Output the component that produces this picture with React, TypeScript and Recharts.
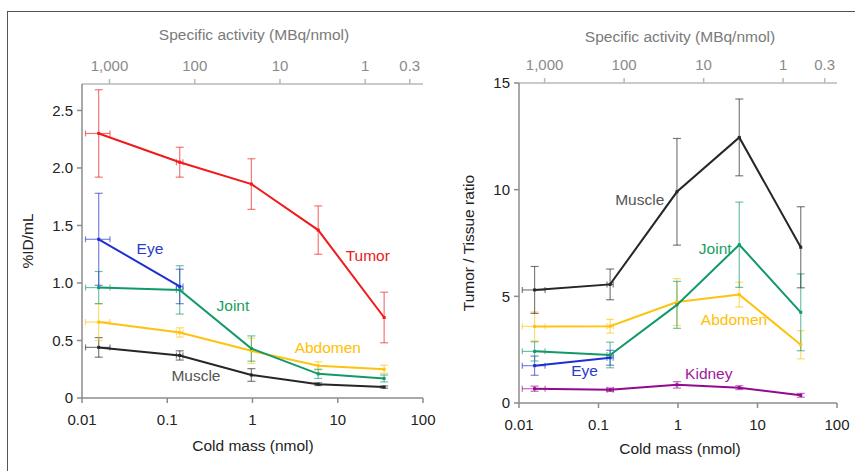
import React from 'react';
import { ComposedChart, Scatter, XAxis, YAxis, ErrorBar, ReferenceDot } from 'recharts';

// shared x positions (cold mass, nmol) and their horizontal error
const coldMass = [0.0157, 0.14, 0.97, 5.9, 35];
const coldMassErr: ([number, number] | null)[] = [[0.0047, 0.0056], [0.012, 0.013], null, null, null];

const massTicks = [0.01, 0.1, 1, 10, 100];
const activityTicks = [1000, 100, 10, 1, 0.3];
const activityLabels = ['1,000', '100', '10', '1', '0.3'];
const injectedMBq = 21; // specific activity * cold mass

// left panel: %ID/mL
const tumorUptake = [2.3, 2.05, 1.86, 1.46, 0.7];
const tumorUptakeErr = [0.38, 0.13, 0.22, 0.21, 0.22];
const eyeUptake = [1.38, 0.97];
const eyeUptakeErr = [0.4, 0.15];
const jointUptake = [0.96, 0.94, 0.43, 0.21, 0.17];
const jointUptakeErr = [0.14, 0.21, 0.11, 0.04, 0.03];
const abdomenUptake = [0.66, 0.57, 0.41, 0.28, 0.25];
const abdomenUptakeErr = [0.16, 0.04, 0.11, 0.035, 0.035];
const muscleUptake = [0.44, 0.37, 0.2, 0.12, 0.095];
const muscleUptakeErr = [0.085, 0.04, 0.055, 0.012, 0.01];

// right panel: tumor / tissue ratio
const muscleRatio = [5.3, 5.56, 9.9, 12.45, 7.3];
const muscleRatioErr = [1.1, 0.72, 2.5, 1.8, 1.9];
const jointRatio = [2.42, 2.25, 4.6, 7.42, 4.25];
const jointRatioErr = [0.45, 0.6, 1.1, 2.0, 1.8];
const abdomenRatio = [3.59, 3.6, 4.73, 5.08, 2.73];
const abdomenRatioErr = [0.68, 0.32, 1.1, 0.58, 0.66];
const eyeRatio = [1.75, 2.12];
const eyeRatioErr = [0.45, 0.35];
const kidneyRatio = [0.67, 0.62, 0.85, 0.72, 0.36];
const kidneyRatioErr = [0.12, 0.08, 0.15, 0.09, 0.09];

const RED = '#f01a1a';
const BLUE = '#1f2fd2';
const GREEN = '#12996a';
const YELLOW = '#ffc20e';
const BLACK = '#262626';
const PURPLE = '#930a8f';

const FONT = '"Liberation Sans", Arial, sans-serif';

const toPoints = (vals: number[], errs: number[]) =>
  vals.map((y, i) => ({ x: coldMass[i], y, ey: errs[i], ex: coldMassErr[i] }));

const leftSeries = [
  { name: 'Muscle', color: BLACK, data: toPoints(muscleUptake, muscleUptakeErr) },
  { name: 'Abdomen', color: YELLOW, data: toPoints(abdomenUptake, abdomenUptakeErr) },
  { name: 'Joint', color: GREEN, data: toPoints(jointUptake, jointUptakeErr) },
  { name: 'Eye', color: BLUE, data: toPoints(eyeUptake, eyeUptakeErr) },
  { name: 'Tumor', color: RED, data: toPoints(tumorUptake, tumorUptakeErr) },
];

const rightSeries = [
  { name: 'Kidney', color: PURPLE, data: toPoints(kidneyRatio, kidneyRatioErr) },
  { name: 'Eye', color: BLUE, data: toPoints(eyeRatio, eyeRatioErr) },
  { name: 'Abdomen', color: YELLOW, data: toPoints(abdomenRatio, abdomenRatioErr) },
  { name: 'Joint', color: GREEN, data: toPoints(jointRatio, jointRatioErr) },
  { name: 'Muscle', color: BLACK, data: toPoints(muscleRatio, muscleRatioErr) },
];

// series name labels, in data coordinates
const leftLabels = [
  { text: 'Eye', x: 0.0627, y: 1.3, color: '#2a3cc8' },
  { text: 'Tumor', x: 22.5, y: 1.235, color: '#e82020' },
  { text: 'Joint', x: 0.589, y: 0.8, color: '#18a060' },
  { text: 'Abdomen', x: 7.65, y: 0.443, color: '#ffc000' },
  { text: 'Muscle', x: 0.217, y: 0.196, color: '#555555' },
];

const rightLabels = [
  { text: 'Muscle', x: 0.33, y: 9.53, color: '#555555' },
  { text: 'Joint', x: 2.94, y: 7.23, color: '#18a060' },
  { text: 'Abdomen', x: 5.07, y: 3.91, color: '#ffc000' },
  { text: 'Eye', x: 0.0668, y: 1.51, color: '#2a3cc8' },
  { text: 'Kidney', x: 2.44, y: 1.36, color: '#a0189a' },
];

const activityMass = activityTicks.map((a) => injectedMBq / a);
const activityAnchors = activityMass.map((x) => ({ x, y: 0 }));

const axisStroke = { stroke: '#8c8c8c', strokeWidth: 1.5 };
const topStroke = { stroke: '#b8b8b8', strokeWidth: 1.5 };

const Panel = ({ width, margin, yAxisWidth, yDomain, yTicks, yFormat, series, labels }: any) => (
  <ComposedChart width={width} height={471} margin={margin}>
    <XAxis
      xAxisId="top"
      dataKey="x"
      orientation="top"
      type="number"
      scale="log"
      domain={[0.01, 100]}
      allowDataOverflow
      ticks={activityMass}
      interval={0}
      tickFormatter={(_v: number, i: number) => activityLabels[i]}
      axisLine={topStroke}
      tickLine={topStroke}
      tick={{ fill: '#8a8a8a', fontSize: 15 }}
      tickSize={5}
      tickMargin={8}
      height={30}
    />
    <XAxis
      dataKey="x"
      type="number"
      scale="log"
      domain={[0.01, 100]}
      allowDataOverflow
      ticks={massTicks}
      interval={0}
      tickFormatter={(v: number) => String(v)}
      axisLine={axisStroke}
      tickLine={axisStroke}
      tick={{ fill: '#222', fontSize: 15 }}
      tickSize={5}
      tickMargin={11}
      height={30}
    />
    <YAxis
      dataKey="y"
      type="number"
      domain={yDomain}
      allowDataOverflow
      ticks={yTicks}
      interval={0}
      tickFormatter={yFormat}
      axisLine={axisStroke}
      tickLine={axisStroke}
      tick={{ fill: '#222', fontSize: 15 }}
      tickSize={5}
      tickMargin={4}
      width={yAxisWidth}
    />
    {/* invisible series so the specific-activity axis gets drawn */}
    <Scatter
      xAxisId="top"
      data={activityAnchors}
      shape={() => <g />}
      legendType="none"
      isAnimationActive={false}
    />
    {series.map((s: any) => (
      <Scatter
        key={s.name}
        name={s.name}
        data={s.data}
        fill={s.color}
        line={{ stroke: s.color, strokeWidth: 2 }}
        lineType="joint"
        shape={(p: any) => <rect x={p.cx - 1.5} y={p.cy - 1.5} width={3} height={3} fill={s.color} />}
        isAnimationActive={false}
      >
        <ErrorBar dataKey="ey" direction="y" width={4} stroke={s.color} strokeOpacity={0.6} strokeWidth={1.2} />
        <ErrorBar dataKey="ex" direction="x" width={3} stroke={s.color} strokeOpacity={0.6} strokeWidth={1.2} />
      </Scatter>
    ))}
    {labels.map((l: any) => (
      <ReferenceDot
        key={l.text}
        x={l.x}
        y={l.y}
        r={0}
        fill="none"
        stroke="none"
        label={{ value: l.text, position: 'center', fill: l.color, fontSize: 15.5 }}
      />
    ))}
  </ComposedChart>
);

const Title = ({ x, y, text, color, rotate }: any) => (
  <div
    style={{
      position: 'absolute',
      left: x,
      top: y,
      transform: `translate(-50%, -50%)${rotate ? ' rotate(-90deg)' : ''}`,
      whiteSpace: 'nowrap',
      fontSize: 15.5,
      lineHeight: '16px',
      color,
    }}
  >
    {text}
  </div>
);

export default function App() {
  return (
    <div
      style={{
        position: 'absolute',
        left: 0,
        top: 0,
        width: 855,
        height: 471,
        background: '#fff',
        fontFamily: FONT,
        overflow: 'hidden',
      }}
    >
      <div
        style={{
          position: 'absolute',
          left: 7,
          top: 11,
          width: 860,
          height: 470,
          borderTop: '1px solid #555',
          borderLeft: '1px solid #555',
        }}
      />
      <div style={{ position: 'absolute', left: 0, top: 0 }}>
        <Panel
          width={445}
          margin={{ top: 54, right: 22, bottom: 43, left: 0 }}
          yAxisWidth={82}
          yDomain={[0, 2.73]}
          yTicks={[0, 0.5, 1, 1.5, 2, 2.5]}
          yFormat={(v: number) => (v === 0 ? '0' : v.toFixed(1))}
          series={leftSeries}
          labels={leftLabels}
        />
      </div>
      <div style={{ position: 'absolute', left: 430, top: 0 }}>
        <Panel
          width={425}
          margin={{ top: 53, right: 18, bottom: 38, left: 0 }}
          yAxisWidth={89}
          yDomain={[0, 15]}
          yTicks={[0, 5, 10, 15]}
          yFormat={(v: number) => String(v)}
          series={rightSeries}
          labels={rightLabels}
        />
      </div>
      <Title x={254} y={34.5} text="Specific activity (MBq/nmol)" color="#7a7a7a" />
      <Title x={680} y={37} text="Specific activity (MBq/nmol)" color="#7a7a7a" />
      <Title x={253} y={445.5} text="Cold mass (nmol)" color="#222" />
      <Title x={680} y={448.5} text="Cold mass (nmol)" color="#222" />
      <Title x={27.5} y={241} text="%ID/mL" color="#222" rotate />
      <Title x={469} y={243} text="Tumor / Tissue ratio" color="#222" rotate />
    </div>
  );
}
